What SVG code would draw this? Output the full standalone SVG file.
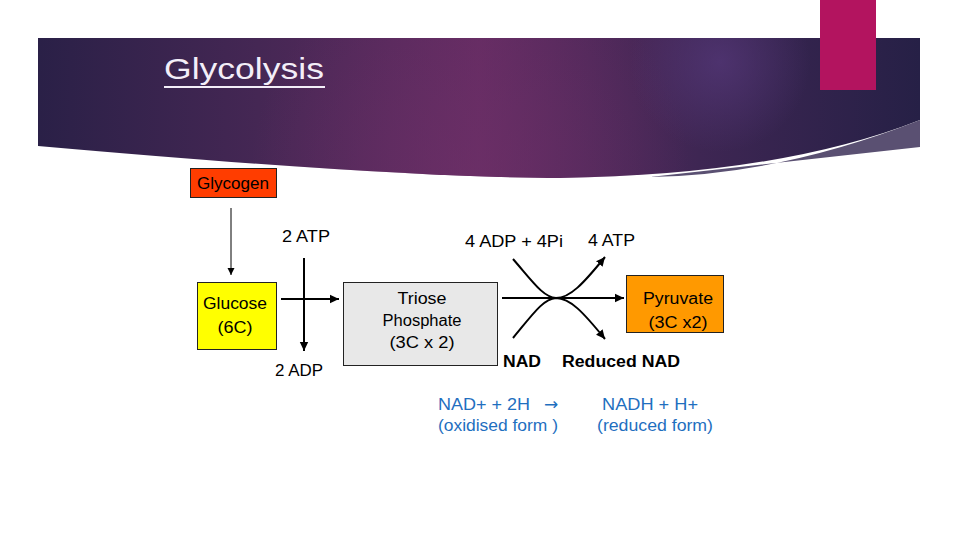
<svg xmlns="http://www.w3.org/2000/svg" width="960" height="540" viewBox="0 0 960 540">
<defs>
<linearGradient id="bg" x1="0" y1="0" x2="1" y2="0">
<stop offset="0" stop-color="#2a2047"/>
<stop offset="0.25" stop-color="#452754"/>
<stop offset="0.5" stop-color="#652c63"/>
<stop offset="0.75" stop-color="#3e2653"/>
<stop offset="1" stop-color="#262046"/>
</linearGradient>
<radialGradient id="glow" cx="720" cy="62" r="90" gradientUnits="userSpaceOnUse">
<stop offset="0" stop-color="#55387a" stop-opacity="0.7"/>
<stop offset="1" stop-color="#55387a" stop-opacity="0"/>
</radialGradient>
<radialGradient id="glow2" cx="470" cy="175" r="220" gradientUnits="userSpaceOnUse">
<stop offset="0" stop-color="#6e3068" stop-opacity="0.6"/>
<stop offset="1" stop-color="#6e3068" stop-opacity="0"/>
</radialGradient>
<marker id="ah" markerWidth="10" markerHeight="10" refX="9" refY="5" orient="auto" markerUnits="userSpaceOnUse">
<path d="M0,0.8 L9,5 L0,9.2 Z" fill="#000"/>
</marker>
<marker id="ahs" markerWidth="8" markerHeight="8" refX="7" refY="4" orient="auto" markerUnits="userSpaceOnUse">
<path d="M0,0.5 L7,4 L0,7.5 Z" fill="#000"/>
</marker>
<style>
text { font-family: "Liberation Sans", Arial, sans-serif; }
.lbl { font-size: 16px; fill: #000; }
.bold { font-size: 16px; font-weight: bold; fill: #000; }
.blue { font-size: 16px; fill: #1f6fbf; }
.arrow { font-family: "DejaVu Sans", sans-serif; font-size: 17px; fill: #1f6fbf; }
.box { stroke: #222; stroke-width: 1; }
.conn { stroke: #000; stroke-width: 2; fill: none; }
.thin { stroke: #000; stroke-width: 1; fill: none; }
</style>
</defs>

<g id="banner">
<path d="M38,38 H920 V120 Q780,175 560,178 Q400,178 38,146 Z" fill="url(#bg)"/>
<path d="M38,38 H920 V120 Q780,175 560,178 Q400,178 38,146 Z" fill="url(#glow2)"/>
<path d="M38,38 H920 V120 Q780,175 560,178 Q400,178 38,146 Z" fill="url(#glow)"/>
<path d="M920,120 Q780,175 650,177 L920,147 Z" fill="#5a5072"/>
<rect x="820" y="0" width="56" height="90" fill="#b3145f"/>
<text x="164" y="79" font-size="30" fill="#f3eef8" textLength="160" lengthAdjust="spacingAndGlyphs">Glycolysis</text>
<line x1="164" y1="87" x2="325" y2="87" stroke="#f3eef8" stroke-width="2"/>
</g>

<g id="glycogen">
<rect class="box" x="190.5" y="168.5" width="86" height="29" fill="#ff3d00"/>
<text class="lbl" x="233" y="189" text-anchor="middle" textLength="72" lengthAdjust="spacingAndGlyphs">Glycogen</text>
</g>

<g id="glucose">
<rect class="box" x="197.5" y="282.5" width="79" height="67" fill="#ffff00"/>
<text class="lbl" x="235" y="309" text-anchor="middle" textLength="64" lengthAdjust="spacingAndGlyphs">Glucose</text>
<text class="lbl" x="235" y="333" text-anchor="middle" textLength="35" lengthAdjust="spacingAndGlyphs">(6C)</text>
</g>

<g id="triose">
<rect class="box" x="343.5" y="282.5" width="154" height="83" fill="#e8e8e8"/>
<text class="lbl" x="422" y="304" text-anchor="middle" textLength="49" lengthAdjust="spacingAndGlyphs">Triose</text>
<text class="lbl" x="422" y="326" text-anchor="middle" textLength="79" lengthAdjust="spacingAndGlyphs">Phosphate</text>
<text class="lbl" x="422" y="348" text-anchor="middle" textLength="65" lengthAdjust="spacingAndGlyphs">(3C x 2)</text>
</g>

<g id="pyruvate">
<rect class="box" x="626.5" y="275.5" width="97" height="57" fill="#ff9900"/>
<text class="lbl" x="678" y="304" text-anchor="middle" textLength="70" lengthAdjust="spacingAndGlyphs">Pyruvate</text>
<text class="lbl" x="678" y="328" text-anchor="middle" textLength="59" lengthAdjust="spacingAndGlyphs">(3C x2)</text>
</g>

<g id="labels">
<text class="lbl" x="282" y="242" textLength="48" lengthAdjust="spacingAndGlyphs">2 ATP</text>
<text class="lbl" x="275" y="376" textLength="48" lengthAdjust="spacingAndGlyphs">2 ADP</text>
<text class="lbl" x="465" y="247" textLength="98" lengthAdjust="spacingAndGlyphs">4 ADP + 4Pi</text>
<text class="lbl" x="588" y="246" textLength="47" lengthAdjust="spacingAndGlyphs">4 ATP</text>
<text class="bold" x="503" y="367" textLength="38" lengthAdjust="spacingAndGlyphs">NAD</text>
<text class="bold" x="562" y="367" textLength="118" lengthAdjust="spacingAndGlyphs">Reduced NAD</text>
</g>

<g id="equation">
<text class="blue" x="438" y="410" textLength="92" lengthAdjust="spacingAndGlyphs">NAD+ + 2H</text>
<text class="arrow" x="544" y="410">→</text>
<text class="blue" x="602" y="410" textLength="96" lengthAdjust="spacingAndGlyphs">NADH + H+</text>
<text class="blue" x="438" y="431" textLength="120" lengthAdjust="spacingAndGlyphs">(oxidised form )</text>
<text class="blue" x="597" y="431" textLength="116" lengthAdjust="spacingAndGlyphs">(reduced form)</text>
</g>

<g id="connectors">
<line class="thin" x1="231" y1="208" x2="231" y2="275" marker-end="url(#ahs)"/>
<line class="conn" x1="304" y1="258" x2="304" y2="351" marker-end="url(#ah)"/>
<line class="conn" x1="281" y1="299" x2="339" y2="299" marker-end="url(#ah)"/>
<line class="conn" x1="502" y1="298" x2="624" y2="298" marker-end="url(#ah)"/>
<path class="conn" d="M513,259 C533,282 543,297 556,298 C570,298 583,284 605,257" marker-end="url(#ah)"/>
<path class="conn" d="M513,338 C533,314 543,299 556,298 C570,298 583,312 605,339" marker-end="url(#ah)"/>
</g>
</svg>
